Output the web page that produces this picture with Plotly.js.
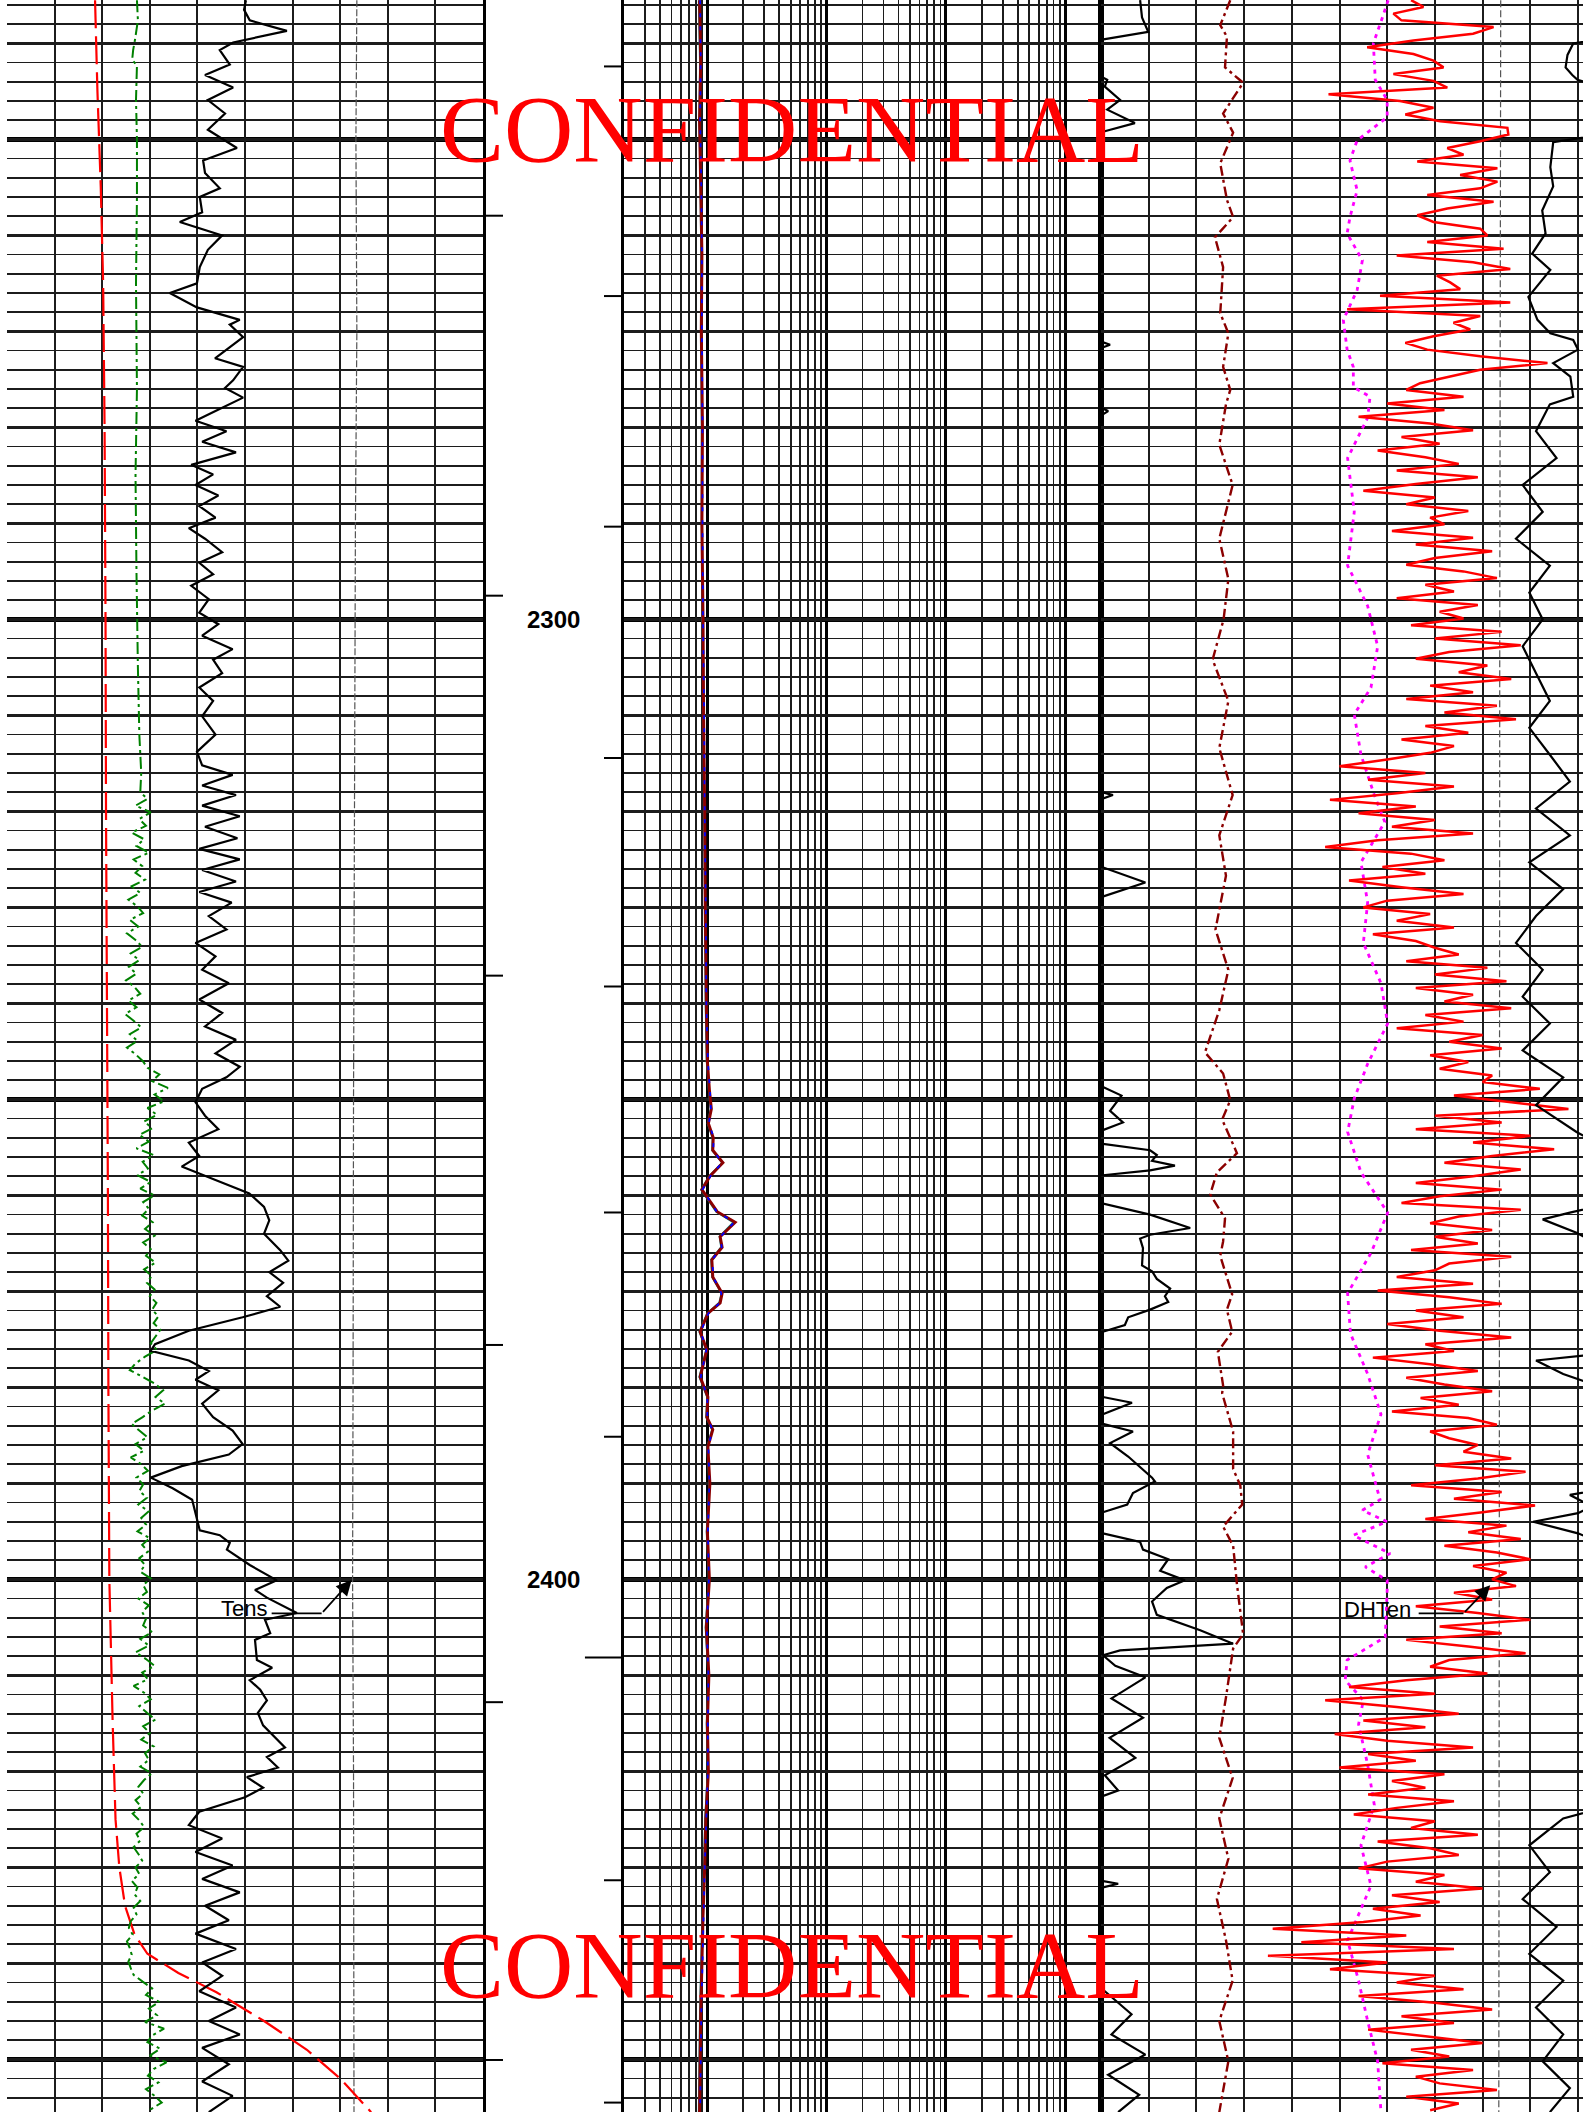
<!DOCTYPE html>
<html><head><meta charset="utf-8">
<script src="https://cdn.plot.ly/plotly-3.0.1.min.js"></script>
<style>html,body{margin:0;padding:0;background:#fff;}#chart{width:1583px;height:2112px;}</style>
</head><body><div id="chart"></div>
<script>
// ---------------- DATA (depth in m; linear tracks in grid divisions 0-10; track 2 in ohm.m) -------------
const depthTop = 2235.48, depthBottom = 2455.48;
const heavyDepths = [2250, 2300, 2350, 2400, 2450];
const depthLabels = [2300, 2400];
const timeTicksLeft = [2257.95, 2297.53, 2337.11, 2375.58, 2412.79, 2450.06];
const timeTicksRight = [2242.40, 2266.32, 2290.34, 2314.44, 2338.24, 2361.78, 2385.14, 2431.34, 2454.5];
const timeTicksLong = [2408.14];

// Track 1 : caliper-like red dashed curve
const caliDepth = [2235.5,2245,2255,2265,2280,2300,2320,2340,2360,2380,2400,2415,2425,2430,2434,2437,2439,2441,2443,2446,2449,2452,2455.5];
const caliVal = [1.85,1.90,1.97,2.02,2.05,2.07,2.08,2.10,2.12,2.13,2.15,2.22,2.28,2.36,2.48,2.68,2.95,3.6,4.4,5.4,6.3,7.0,7.65];

// Track 1 : green dash-dot curve (smooth part, then sampled every 0.7 m from 2318 m)
const greenDepth = [2235.5,2237.6,2239.6,2240.7,2241.7,2242.3,2245.9,2250,2256,2265,2276,2285,2295,2305,2312,2316];
const greenVal = [2.73,2.75,2.69,2.65,2.63,2.73,2.71,2.73,2.73,2.71,2.73,2.70,2.72,2.75,2.78,2.82];
const greenNoisyStart = 2318.0, greenNoisyStep = 0.7;
const greenNoisyVal = [
2.80,2.95,2.70,3.02,2.78,2.92,2.62,2.88,2.72,2.98,2.66,2.84,2.70,2.90,
2.62,2.80,2.55,2.74,2.86,2.58,2.76,2.52,2.70,2.84,2.60,2.78,2.56,2.72,
2.50,2.68,2.80,2.55,2.72,2.48,2.66,2.82,2.58,2.74,2.52,2.70,2.85,
2.95,3.20,3.05,3.38,3.10,3.30,2.95,3.15,2.88,
3.05,2.78,2.98,2.72,3.08,2.85,2.96,2.74,3.02,2.80,3.10,2.86,2.98,
2.84,3.06,2.90,3.10,2.86,3.02,2.92,3.12,2.88,3.04,2.94,3.10,3.00,3.14,
3.05,3.18,3.08,3.22,3.12,3.02,3.15,
2.90,2.70,2.58,2.85,3.10,3.28,3.12,3.32,3.05,2.85,2.62,2.78,2.95,2.70,2.88,2.60,2.82,2.96,2.72,2.86,
2.78,2.94,2.76,2.98,2.82,2.92,2.74,3.00,2.84,2.96,2.78,2.90,2.80,3.02,2.86,2.94,2.76,2.98,2.84,2.92,
2.86,3.05,2.80,2.98,2.70,2.92,3.10,2.84,2.96,2.66,2.88,3.02,2.78,2.94,3.12,2.86,3.00,2.82,3.08,2.90,2.98,2.80,3.04,2.88,
2.76,2.86,2.70,2.82,2.64,2.78,2.88,2.72,2.80,2.66,2.76,2.84,2.70,2.78,2.62,2.74,2.68,2.80,2.66,2.72,
2.60,2.56,2.64,2.52,2.58,2.62,2.55,2.60,2.66,
2.85,3.05,2.92,3.20,2.98,3.15,2.90,3.30,3.05,2.95,3.22,3.00,3.35,3.08,2.96,3.18,2.92,3.10,3.25,3.02,3.12];

// Track 1 : black solid curve
const grDepth = [2235.5,2236.5,2237.6,2238.7,2239.9,2240.7,2242.2,2243.3,2244.6,2245.9,
2247.3,2249.0,2250.9,2252.2,2253.5,2255.1,2256.0,2257.6,2258.6,2260.0,
2261.5,2263.3,2265.0,2266.0,2267.5,2268.8,2269.3,2270.6,2272.8,2273.7,
2275.1,2275.9,2276.9,
2278.3,2279.3,2280.4,2281.5,2282.6,2283.9,2284.9,2286.0,2287.1,2288.2,
2289.4,2290.5,2291.6,2293.0,2294.1,2295.3,2296.5,2297.9,2299.3,2300.5,
2301.7,2303.1,2304.2,2305.6,2307.1,2308.5,2310.1,2312.0,2313.8,2315.2,
2316.2,2317.3,2318.3,2319.4,2320.5,2321.6,2322.8,2323.9,2325.0,2326.1,
2327.3,2328.4,2329.5,2330.9,2332.3,2333.7,2335.1,2336.5,2337.9,2339.6,
2341.0,2342.4,2343.8,2345.2,2346.6,2347.7,2348.9,2350.3,2351.7,2353.1,
2354.5,2355.9,2357.0,2358.4,2359.8,2361.2,2362.6,2364.0,2365.7,2366.8,
2368.0,2369.1,2370.5,2371.6,2372.7,2374.1,2375.5,2376.2,2377.2,2378.3,
2379.2,2380.3,2381.7,2383.1,2384.5,2385.9,2387.0,2388.2,2389.4,2390.5,
2391.7,2394.9,2395.4,2396.2,2396.9,2398.5,2400.1,2401.1,2401.9,2403.5,
2404.2,2405.6,2406.3,2408.4,2409.2,2410.5,2411.5,2412.6,2413.9,2415.2,
2417.5,2418.5,2419.6,2420.6,2421.7,2422.7,
2424.2,2425.6,2427.0,2428.4,2429.8,2431.2,2432.6,2434.0,2435.5,2436.9,
2438.5,2439.9,2441.3,2442.9,2444.6,2446.0,2447.4,2448.8,2450.5,2452.3,
2453.8,2455.5];
const grVal = [5.02,4.98,5.10,5.88,4.75,4.47,4.68,4.16,4.75,4.22,
4.58,4.22,4.83,4.12,4.16,4.47,4.05,4.10,3.63,4.52,
4.22,4.05,3.99,3.42,3.99,4.89,4.68,4.96,4.37,4.96,
4.75,4.58,4.96,
4.38,3.96,4.61,4.10,4.81,3.87,4.33,3.96,4.44,4.04,
4.38,3.82,4.16,4.52,4.04,4.33,3.87,4.24,4.04,4.44,
4.10,4.74,4.33,4.52,4.04,4.33,4.10,4.38,3.99,4.10,
4.74,4.10,4.81,4.10,4.89,4.16,4.84,4.04,4.89,4.10,
4.81,4.04,4.72,4.24,4.61,3.96,4.38,4.10,4.66,4.04,
4.52,4.16,4.81,4.38,4.89,4.61,4.10,3.96,4.16,4.44,
3.82,4.04,3.67,4.38,5.09,5.40,5.51,5.40,5.74,5.91,
5.51,5.80,5.46,5.74,4.95,3.82,3.11,3.02,3.82,4.24,
3.96,4.44,4.10,4.33,4.74,4.95,4.66,3.67,3.02,3.48,
3.89,4.05,4.47,4.68,4.62,5.10,5.67,5.21,5.46,6.09,
5.42,5.53,5.21,5.25,5.57,5.10,5.32,5.46,5.27,5.38,
5.84,5.46,5.69,5.04,5.38,5.00,
4.04,3.82,4.52,3.96,4.74,4.10,4.89,4.16,4.66,3.96,
4.81,4.10,4.52,4.04,4.81,4.24,4.89,4.10,4.66,4.10,
4.74,4.24];

// Track 1 : surface tension (thin dashed)
const tensDepth = [2235.5,2250,2270,2290,2320,2350,2380,2400,2420,2455.5];
const tensVal = [7.35,7.33,7.35,7.32,7.30,7.28,7.27,7.26,7.28,7.29];

// Track 2 : resistivity curves (ohm.m, log scale 0.2 - 2000)
const resDepth = [2235.5,2242,2248,2255,2262,2270,2280,2290,2300,2310,2320,2330,2340,2346,2349,2351,2352.5,2354,2355.3,2356.6,2358,2359.4,2361.7,2362.8,2364.3,2365.4,2366.7,2368.5,2370.2,2371.2,2372.3,2374.2,2376.1,2378.9,2381.0,2383.1,2384.4,2386.2,2390,2395,2400,2405,2410,2415,2420,2425,2430,2435,2440,2445,2450,2455.5];
const resDeep = [0.86,0.88,0.86,0.88,0.90,0.89,0.91,0.90,0.92,0.93,0.95,0.96,0.98,1.0,1.04,1.08,1.02,1.12,1.11,1.35,1.05,0.90,1.21,1.71,1.28,1.33,1.09,1.11,1.33,1.28,1.01,0.87,0.99,0.87,1.01,0.99,1.11,1.01,1.05,1.0,1.04,0.98,1.03,1.0,1.02,0.97,0.95,0.92,0.90,0.88,0.87,0.86];
const resMed = [0.87,0.88,0.87,0.89,0.90,0.90,0.91,0.91,0.92,0.94,0.95,0.97,0.98,1.01,1.05,1.07,1.03,1.13,1.12,1.33,1.06,0.91,1.20,1.68,1.29,1.32,1.10,1.12,1.31,1.27,1.02,0.88,0.98,0.88,1.00,1.00,1.10,1.02,1.04,1.01,1.03,0.99,1.02,1.01,1.01,0.98,0.95,0.93,0.91,0.89,0.88,0.87];
const resShal = [0.85,0.87,0.86,0.88,0.89,0.89,0.90,0.90,0.91,0.93,0.94,0.96,0.97,0.99,1.03,1.07,1.01,1.11,1.10,1.34,1.04,0.89,1.19,1.66,1.27,1.31,1.08,1.10,1.32,1.26,1.00,0.86,0.98,0.86,1.00,0.98,1.10,1.00,1.04,0.99,1.03,0.97,1.02,0.99,1.01,0.96,0.94,0.91,0.89,0.87,0.86,0.85];

// Track 3 : left black curve (values < 0 are off-track)
const spDepth = [2235.5,2237.3,2238.8,2239.6,2240.5,2243.0,2243.5,2243.8,2244.5,2245.9,2246.9,2248.3,2249.2,2250.0,2270.6,2271.1,2271.4,2271.7,2272.2,2277.6,2278.0,2278.3,2278.7,2279.2,2317.6,2318.0,2318.3,2318.7,2319.2,2325.4,2325.8,2327.4,2328.9,2329.5,2348.0,2348.6,2349.6,2351.2,2352.4,2353.2,2353.8,2354.2,2354.6,2355.3,2355.8,2356.4,2356.9,2357.4,2357.9,2358.5,2360.2,2360.8,2362.0,2363.4,2364.1,2364.5,2365.5,2367.3,2367.9,2368.7,2369.7,2370.5,2371.1,2371.9,2372.7,2373.5,2374.2,2374.8,2380.4,2381.0,2381.6,2382.8,2383.8,2384.6,2385.8,2387.2,2389.4,2389.8,2391.0,2392.2,2393.0,2393.6,2394.6,2395.2,2396.1,2396.9,2397.9,2399.1,2400.1,2400.9,2402.3,2403.7,2405.3,2406.7,2407.4,2407.9,2409.0,2410.2,2412.4,2414.4,2416.5,2418.6,2420.4,2422.0,2422.6,2423.2,2431.0,2431.4,2431.7,2432.1,2432.6,2442.3,2442.9,2445.3,2447.4,2449.5,2451.6,2453.7,2455.5];
const spVal = [0.82,0.86,0.99,0.02,-1,-1,0.02,0.13,0.08,0.40,0.13,0.71,0.04,-1,-1,0.02,0.19,0.02,-1,-1,0.02,0.15,0.02,-1,-1,0.02,0.25,0.02,-1,-1,0.02,0.93,0.02,-1,-1,0,0.43,0.19,0.46,0.04,-1,-1,0,1.03,1.17,1.07,1.55,1.03,0.04,-1,-1,0,1.03,1.87,1.03,0.82,0.88,0.86,1.07,1.17,1.45,1.34,1.41,1.03,0.57,0.50,0.04,-1,-1,0.04,0.65,0.04,0.04,0.67,0.19,0.57,1.07,1.13,0.67,0.55,0.04,-1,-1,0.04,0.82,0.88,1.41,1.24,1.76,1.38,1.07,1.17,2.08,2.77,0.40,0.04,0.30,0.93,0.22,0.88,0.18,0.72,0.08,0.36,0.02,-1,-1,0.02,0.36,0.02,-1,-1,0.08,0.64,0.22,0.93,0.15,0.80,0.36];

// Track 3 : dark red dash-dot curve
const drDepth = [2235.5,2238.1,2239.3,2242.5,2244.1,2247.3,2249.3,2252.5,2256.3,2258.1,2260.2,2263.3,2268.1,2270.2,2273.7,2276.1,2277.6,2281.8,2286.0,2291.6,2295.8,2300.0,2304.2,2308.5,2313.4,2318.3,2322.5,2326.7,2332.3,2336.5,2340.7,2345.1,2347.3,2350.1,2352.1,2355.6,2357.6,2359.9,2362.4,2364.8,2366.3,2370.3,2371.9,2374.2,2376.3,2379.8,2380.6,2384.6,2388.5,2390.2,2392.2,2394.5,2396.5,2400.5,2405.7,2407.2,2412.3,2416.5,2420.7,2424.9,2429.1,2433.3,2437.6,2441.8,2446.0,2450.2,2455.5];
const drVal = [2.71,2.50,2.64,2.60,2.98,2.56,2.77,2.50,2.64,2.77,2.39,2.56,2.50,2.67,2.56,2.71,2.62,2.48,2.76,2.48,2.67,2.57,2.34,2.67,2.48,2.76,2.48,2.62,2.40,2.67,2.48,2.18,2.56,2.71,2.54,2.85,2.43,2.29,2.60,2.56,2.50,2.75,2.64,2.75,2.45,2.56,2.54,2.77,2.77,2.92,2.96,2.56,2.77,2.85,2.98,2.77,2.62,2.48,2.76,2.48,2.67,2.43,2.62,2.76,2.48,2.67,2.48];

// Track 3 : magenta dotted curve
const mgDepth = [2235.5,2237.3,2240.0,2243.8,2245.9,2247.7,2250.1,2252.2,2255.3,2258.1,2259.8,2262.6,2265.7,2268.8,2271.9,2273.7,2275.8,2276.8,2279.0,2283.2,2288.8,2294.4,2298.6,2302.8,2307.1,2309.9,2314.1,2318.3,2321.1,2325.3,2329.5,2333.7,2337.9,2342.1,2346.3,2349.9,2353.4,2357.6,2361.8,2366.0,2370.2,2374.4,2378.6,2382.8,2387.0,2391.7,2392.8,2394.0,2395.4,2397.3,2398.7,2400.1,2401.1,2406.0,2408.4,2410.5,2412.6,2415.1,2419.3,2423.5,2427.7,2431.9,2437.6,2441.8,2446.0,2450.2,2455.5];
const mgVal = [6.02,5.90,5.71,5.75,6.00,6.00,5.37,5.22,5.37,5.22,5.16,5.48,5.37,5.08,5.16,5.29,5.29,5.64,5.59,5.17,5.31,5.17,5.59,5.80,5.66,5.31,5.45,5.73,5.95,5.45,5.59,5.50,5.87,6.01,5.59,5.31,5.17,5.45,6.01,5.66,5.17,5.23,5.59,5.87,5.59,5.85,5.48,6.00,5.29,6.06,5.54,6.00,6.00,5.96,5.16,5.12,5.50,5.40,5.59,5.73,5.45,5.66,5.17,5.40,5.59,5.80,5.87];

// Track 3 : red noisy curve (downhole tension), sampled every 0.7 m from 2235.5 m
const dhStart = 2235.5, dhStep = 0.7;
const dhVal = [
6.5,6.76,6.13,6.3,8.23,7.8,6.55,5.58,6.55,6.97,7.18,6.13,6.97,7.26,4.77,6.27,6.97,6.38,7.11,8.52,8.54,7.95,7.26,7.6,6.63,8.31,7.53,8.31,7.95,6.84,8.23,7.26,6.63,6.97,7.95,8.1,6.84,8.44,6.2,7.8,8.58,7.04,7.32,7.53,5.85,8.58,5.16,7.95,7.39,7.74,6.97,6.38,6.84,7.95,9.36,7.95,7.32,6.69,
6.4,7.6,6.0,7.2,5.4,6.9,7.8,6.3,7.1,5.8,6.8,7.5,6.2,7.9,6.6,5.5,7.0,6.4,7.7,6.9,
7.2,6.1,7.8,6.6,8.2,7.0,6.4,7.6,8.3,6.8,7.4,6.2,7.9,7.1,
7.6,6.5,8.4,7.0,8.8,7.3,6.6,8.1,7.5,8.6,6.9,7.8,6.4,8.3,7.2,8.7,6.8,7.7,6.3,7.4,6.9,
6.0,5.0,6.8,5.6,7.4,6.2,4.8,6.6,5.4,7.0,6.1,7.8,5.8,4.7,6.5,7.2,5.9,6.8,5.2,6.3,7.6,6.0,5.5,6.9,6.2,7.4,5.7,6.6,7.0,
7.5,6.4,8.1,7.0,8.5,6.6,7.8,7.2,8.6,6.8,7.6,6.2,8.0,7.3,8.4,6.9,7.7,7.1,8.2,
8.0,9.2,7.4,8.6,9.8,7.0,8.4,6.6,9.0,7.8,9.5,8.2,7.2,8.8,
7.8,6.6,8.4,7.1,6.3,8.8,7.5,6.9,8.2,7.0,7.9,6.5,8.6,7.3,
7.0,6.2,7.8,5.8,7.3,8.4,6.6,7.6,6.0,7.1,8.6,6.8,7.4,5.7,6.9,7.9,6.4,7.2,8.2,6.7,7.5,6.1,7.7,8.3,6.9,7.3,7.9,
7.6,8.6,7.0,8.9,7.9,6.5,8.4,7.4,9.1,8.0,6.8,8.5,7.7,8.8,7.2,8.3,9.0,7.8,8.5,8.2,
8.7,7.4,8.2,6.6,7.9,9.0,7.1,8.4,6.4,7.7,8.9,7.3,6.9,8.1,
6.4,5.2,7.0,4.7,6.2,7.5,5.5,6.8,4.9,6.0,7.8,5.6,6.6,5.0,7.2,6.1,
6.8,5.6,7.4,6.2,5.3,7.0,6.5,7.9,5.8,6.9,7.5,6.0,5.4,7.2,6.6,8.0,6.1,7.1,5.7,6.7,
5.5,3.6,6.4,4.2,7.4,3.5,6.0,4.8,7.0,
6.2,7.6,5.4,7.0,8.2,6.3,7.4,5.6,6.8,8.0,6.5,7.3,5.9,7.8,6.6,7.1,8.3,6.4,7.5,6.9];

// Track 3 : right black curve (values > 10 wrap off-track)
const rbDepth = [2235.5,2239.5,2240.0,2241.2,2242.5,2243.3,2243.8,2244.5,2249.5,2250.3,2252.9,2254.9,2257.4,2259.8,2261.9,2263.6,2266.4,2268.8,2270.2,2270.9,2271.9,2273.3,2274.7,2276.8,2277.6,2280.4,2283.2,2286.0,2288.8,2291.6,2294.4,2297.2,2300.0,2302.8,2305.6,2308.5,2311.3,2314.1,2316.9,2319.7,2322.5,2325.3,2328.1,2330.9,2333.7,2336.5,2339.3,2342.1,2344.9,2347.7,2350.6,2353.4,2354.8,2361.0,2361.8,2362.5,2363.9,2365.3,2376.5,2377.2,2378.6,2380.0,2390.6,2391.2,2392.4,2393.1,2394.0,2395.2,2396.2,2423.8,2424.9,2427.7,2430.5,2433.3,2436.2,2439.0,2441.8,2444.6,2447.4,2450.2,2453.0,2455.5];
const rbVal = [10.5,10.5,9.90,9.78,9.74,9.88,9.99,10.5,10.5,9.48,9.42,9.48,9.25,9.32,9.04,9.42,8.96,9.15,9.42,9.90,10.0,9.48,9.84,9.90,9.41,9.12,9.55,8.84,9.26,8.70,9.41,8.98,9.26,8.84,9.12,9.41,8.98,9.41,9.83,9.12,9.83,8.98,9.69,9.12,8.70,9.26,8.84,9.41,8.84,9.69,9.12,9.97,10.5,10.5,9.83,9.26,9.97,10.5,10.5,9.12,9.69,10.5,10.5,9.83,10.3,10.0,9.06,10.0,10.5,10.5,9.69,8.98,9.41,8.84,9.55,8.98,9.69,9.12,9.69,9.26,9.83,9.41];

// Track 3 : DHTen thin dashed reference
const dhtDepth = [2235.5,2300,2400,2455.5];
const dhtVal = [8.38,8.36,8.35,8.34];

// ---------------- BUILD -------------
const W = 1583, H = 2112;
const t1 = [7/W, 483/W], dtk = [483/W, 624/W], t2 = [624/W, 1101/W], t3 = [1101/W, 1];
const GRID = '#1c1c1c';

function L(x, y, xa, ya, line, extra) {
  return Object.assign({type:'scatter', mode:'lines', x:x, y:y, xaxis:xa, yaxis:ya,
    line:Object.assign({simplify:false}, line), hoverinfo:'skip', showlegend:false}, extra||{});
}
const greenAllDepth = greenDepth.concat(greenNoisyVal.map((v,i)=>greenNoisyStart + i*greenNoisyStep));
const greenAllVal = greenVal.concat(greenNoisyVal);
const dhDepth = dhVal.map((v,i)=>dhStart + i*dhStep);

// depth-track tick segments
const tkX = [], tkY = [];
timeTicksLeft.forEach(d=>{tkX.push(0,0.142,null); tkY.push(d,d,null);});
timeTicksRight.forEach(d=>{tkX.push(0.858,1,null); tkY.push(d,d,null);});
timeTicksLong.forEach(d=>{tkX.push(0.723,1,null); tkY.push(d,d,null);});

const data = [
  L(tensVal, tensDepth, 'x', 'y', {color:'#555', width:1.2, dash:'7px,2px'}),
  L(caliVal, caliDepth, 'x', 'y', {color:'#ff0000', width:2.2, dash:'28px,8px'}),
  L(greenAllVal, greenAllDepth, 'x', 'y', {color:'#008000', width:2, dash:'12px,4px,3px,4px'}),
  L(grVal, grDepth, 'x', 'y', {color:'#000', width:2.2}),
  L(tkX, tkY, 'x4', 'y4', {color:'#000', width:2}),
  L(resShal, resDepth, 'x2', 'y2', {color:'#008b8b', width:2.2}),
  L(resDeep, resDepth, 'x2', 'y2', {color:'#8b0000', width:3}),
  L(resMed, resDepth, 'x2', 'y2', {color:'#0000ff', width:1.8, dash:'4px,9px'}),
  L(dhtVal, dhtDepth, 'x3', 'y3', {color:'#555', width:1.2, dash:'7px,3px'}),
  L(spVal, spDepth, 'x3', 'y3', {color:'#000', width:2.2}),
  L(drVal, drDepth, 'x3', 'y3', {color:'#8b0000', width:2.4, dash:'10px,4px,3px,4px'}),
  L(mgVal, mgDepth, 'x3', 'y3', {color:'#ff00ff', width:2.8, dash:'4px,5px'}),
  L(dhVal, dhDepth, 'x3', 'y3', {color:'#ff0000', width:2.5}),
  L(rbVal, rbDepth, 'x3', 'y3', {color:'#000', width:2.2}),
  // annotation leader lines
  L([5.56, 6.61], [2403.54, 2403.54], 'x', 'y', {color:'#000', width:1.6}),
  L([6.66, 7.60], [2403.54, 2403.54], 'x3', 'y3', {color:'#000', width:1.6})
];

const logMinor = [];
[0.1,1,10,100,1000].forEach(dec=>{for(let k=2;k<=9;k++){const v=+(k*dec).toPrecision(3); if(v>0.2 && v<2000) logMinor.push(v);}});

const yBase = {range:[depthBottom, depthTop], autorange:false, showticklabels:false, ticks:'',
  zeroline:false, fixedrange:true};
function yGrid(extra){
  return Object.assign({}, yBase, {showgrid:true, tickmode:'linear', tick0:2240, dtick:10, gridcolor:GRID, gridwidth:3,
    minor:{tickmode:'linear', tick0:2236, dtick:2, showgrid:true, gridcolor:GRID, gridwidth:1.8}}, extra);
}
const xBase = {showticklabels:false, ticks:'', zeroline:false, showline:false, fixedrange:true};

const shapes = [];
[['x domain','y'],['x2 domain','y2'],['x3 domain','y3']].forEach(p=>{
  heavyDepths.forEach(d=>shapes.push({type:'line', xref:p[0], yref:p[1], x0:0, x1:1, y0:d, y1:d,
    line:{color:'#000', width:5}, layer:'below'}));
});

const annotations = [];
depthLabels.forEach(d=>annotations.push({xref:'x4', yref:'y4', x:0.5, y:d, text:String(d), showarrow:false,
  font:{family:'Liberation Sans, Arial, sans-serif', size:24, color:'#000', weight:'bold'}}));
annotations.push({xref:'x', yref:'y', x:4.98, y:2403.0, text:'Tens', showarrow:false,
  font:{family:'Liberation Sans, Arial, sans-serif', size:22, color:'#000'}});
annotations.push({xref:'x3', yref:'y3', x:5.80, y:2403.1, text:'DHTen', showarrow:false,
  font:{family:'Liberation Sans, Arial, sans-serif', size:22, color:'#000'}});
annotations.push({xref:'x', yref:'y', x:7.24, y:2400.07, axref:'x', ayref:'y', ax:6.61, ay:2403.54, text:'',
  showarrow:true, arrowhead:2, arrowsize:1.7, arrowwidth:1.8, arrowcolor:'#000', standoff:0});
annotations.push({xref:'x3', yref:'y3', x:8.16, y:2400.6, axref:'x3', ayref:'y3', ax:7.60, ay:2403.54, text:'',
  showarrow:true, arrowhead:2, arrowsize:1.7, arrowwidth:1.8, arrowcolor:'#000', standoff:0});
[0.9387, 0.0693].forEach(py=>annotations.push({xref:'paper', yref:'paper', x:792/W, y:py, xanchor:'center', yanchor:'middle',
  text:'CONFIDENTIAL', showarrow:false, font:{family:'Liberation Serif, Times New Roman, serif', size:96, color:'#ff0000'}}));

const layout = {
  width:W, height:H, margin:{l:0,r:0,t:0,b:0,pad:0}, paper_bgcolor:'#fff', plot_bgcolor:'#fff',
  showlegend:false, hovermode:false, dragmode:false,
  xaxis: Object.assign({}, xBase, {domain:t1, range:[0,10], tickmode:'array', tickvals:[1,2,3,4,5,6,7,8,9], showgrid:true, gridcolor:GRID, gridwidth:2, anchor:'y'}),
  yaxis: yGrid({anchor:'x', side:'right', showline:true, linecolor:'#000', linewidth:3}),
  xaxis2: Object.assign({}, xBase, {domain:t2, type:'log', range:[Math.log10(0.2), Math.log10(2000)], tickmode:'array', tickvals:[1,10,100,1000],
    showgrid:true, gridcolor:'#000', gridwidth:3, anchor:'y2',
    minor:{tickmode:'array', tickvals:logMinor, showgrid:true, gridcolor:GRID, gridwidth:1.8}}),
  yaxis2: yGrid({anchor:'x2', showline:true, mirror:true, linecolor:'#000', linewidth:3}),
  xaxis3: Object.assign({}, xBase, {domain:t3, range:[0,10.105], tickmode:'array', tickvals:[1,2,3,4,5,6,7,8,9,10], showgrid:true, gridcolor:GRID, gridwidth:2, anchor:'y3'}),
  yaxis3: yGrid({anchor:'x3', showline:true, linecolor:'#000', linewidth:3}),
  xaxis4: Object.assign({}, xBase, {domain:dtk, range:[0,1], showgrid:false, anchor:'y4'}),
  yaxis4: Object.assign({}, yBase, {anchor:'x4', showgrid:false, showline:false}),
  shapes: shapes, annotations: annotations
};
Plotly.newPlot('chart', data, layout, {staticPlot:true, displayModeBar:false});
</script></body></html>
